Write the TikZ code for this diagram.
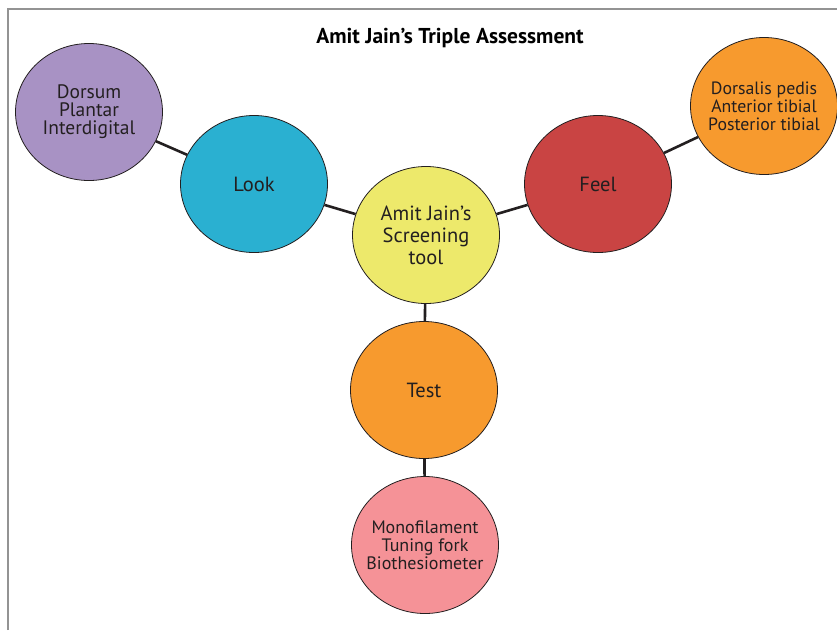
\documentclass[tikz,border=0pt]{standalone}
\usepackage{fontspec}
\setmainfont{PT Sans}
\usetikzlibrary{shapes.geometric}

\definecolor{lookpurple}{HTML}{A892C4}
\definecolor{lookcyan}{HTML}{2AB0D1}
\definecolor{toolyellow}{HTML}{EDE96B}
\definecolor{feelred}{HTML}{C94443}
\definecolor{pulseorange}{HTML}{F79A2E}
\definecolor{testpink}{HTML}{F59297}
\definecolor{inkdark}{HTML}{231F20}

\tikzset{
  bubble/.style={ellipse,draw=inkdark,line width=0.8pt,minimum width=147pt,minimum height=137pt,
                 inner sep=-10pt,align=center,text=inkdark},
  bigtext/.style={font=\fontsize{20.5}{22}\selectfont},
  smalltext/.style={font=\fontsize{17.8}{17.8}\selectfont},
  link/.style={line width=2.6pt,draw=inkdark}
}

\begin{document}
\begin{tikzpicture}[x=1pt,y=-1pt]
		% Fix the page size
		\useasboundingbox (0,0) rectangle (837,630);
		
		% Frame
		\draw[gray!85,line width=1.5pt] (8,630) -- (8,9) -- (837,9);
		
		% Title
		\node (title) at (450,38) {\fontsize{21.5}{24}\selectfont\bfseries Amit Jain’s Triple Assessment};
		
		% Define main bubbles
		\node[bubble,bigtext,fill=toolyellow] (tool) at (426,235) {Amit Jain’s\\Screening\\tool};
		\node[bubble,bigtext,fill=lookcyan] (look) at (254,184) {Look};
		\node[bubble,bigtext,fill=feelred] (feel) at (598,184) {Feel};
		\node[bubble,bigtext,fill=pulseorange] (test) at (424,390) {Test};
		
		% Define detail bubbles
		\node[bubble,font=\fontsize{19.5}{18}\selectfont,fill=lookpurple] (skin) at (89,112) {Dorsum\\Plantar\\Interdigital};
		\node[bubble,smalltext,fill=pulseorange] (pulse) at (764,106) {Dorsalis pedis\\Anterior tibial\\Posterior tibial};
		\node[bubble,font=\fontsize{18}{18}\selectfont,fill=testpink] (sense) at (425,545) {Monofilament\\Tuning fork\\Biothesiometer};
		
		% Draw the links
		\draw[link] (tool) -- (look);
		\draw[link] (tool) -- (feel);
		\draw[link] (tool) -- (test);
		\draw[link] (look) -- (skin);
		\draw[link] (feel) -- (pulse);
		\draw[link] (test) -- (sense);
		
\end{tikzpicture}
\end{document}
